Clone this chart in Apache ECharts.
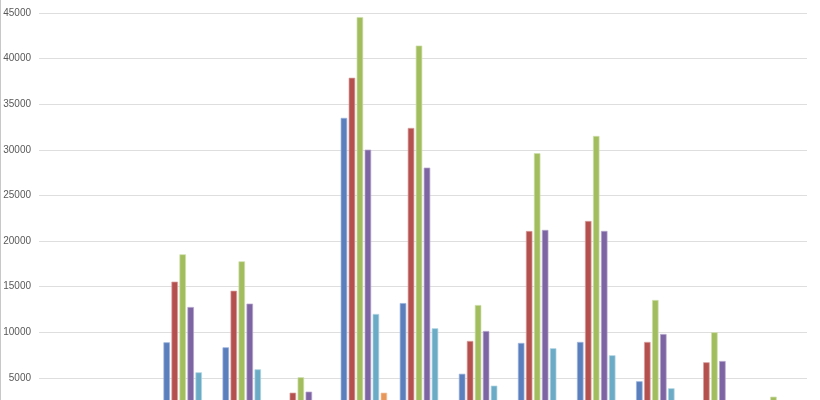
<!DOCTYPE html>
<html>
<head>
<meta charset="utf-8">
<script src="https://cdn.jsdelivr.net/npm/echarts@6/dist/echarts.min.js"></script>
<style>
html,body{margin:0;padding:0;background:#fff;}
#c{width:820px;height:400px;}
</style>
</head>
<body>
<div id="c"></div>
<script>
var categories = ['1','2','3','4','5','6','7','8','9','10','11','12','13'];
var seriesNames = ['Series 1','Series 2','Series 3','Series 4','Series 5','Series 6'];
var blueValues   = [0, 0, 8900, 8350, 1800, 33500, 13200, 5450, 8830, 8940, 4630, 1500, 500];
var redValues    = [0, 0, 15550, 14550, 3380, 37900, 32400, 9050, 21100, 22200, 8940, 6710, 1200];
var greenValues  = [0, 0, 18550, 17780, 5070, 44550, 41430, 12990, 29630, 31520, 13540, 10000, 2940];
var purpleValues = [0, 0, 12770, 13140, 3490, 30020, 28050, 10140, 21220, 21110, 9810, 6850, 1100];
var cyanValues   = [0, 0, 5610, 5940, 1200, 12010, 10440, 4150, 8250, 7480, 3860, 1500, 300];
var orangeValues = [0, 0, 0, 0, 0, 3380, 0, 0, 0, 0, 0, 0, 0];
var yTicks = [0, 5000, 10000, 15000, 20000, 25000, 30000, 35000, 40000, 45000];

var colors = ['#5b7fbd', '#b4504d', '#a2bd5d', '#7d64a2', '#6babc6', '#e8975a'];
var borders = ['#9db4dc', '#d9a2a0', '#cfdfae', '#b7a8cf', '#b3d7e4', '#f3cba9'];
var allValues = [blueValues, redValues, greenValues, purpleValues, cyanValues, orangeValues];

var series = allValues.map(function (vals, i) {
  return {
    name: seriesNames[i],
    type: 'bar',
    data: vals.map(function (v) { return v === 0 ? '-' : v; }),
    barWidth: 6.5,
    barGap: '23%',
    itemStyle: { color: colors[i], borderColor: borders[i], borderWidth: 0.7 },
    silent: true
  };
});

var chart = echarts.init(document.getElementById('c'), null, {renderer: 'canvas'});
chart.setOption({
  animation: false,
  backgroundColor: '#ffffff',
  grid: { left: 39, width: 768, top: 13, height: 410.5, containLabel: false, outerBoundsMode: 'none' },
  xAxis: {
    type: 'category',
    data: categories,
    axisLine: { show: false },
    axisTick: { show: false },
    axisLabel: { show: false },
    splitLine: { show: false }
  },
  yAxis: {
    type: 'value',
    min: yTicks[0],
    max: yTicks[yTicks.length - 1],
    interval: 5000,
    axisLine: { show: false },
    axisTick: { show: false },
    axisLabel: {
      margin: 8,
      color: '#595959',
      fontFamily: 'Liberation Sans, Arial, sans-serif',
      fontSize: 10,
      formatter: function (v) { return v === 0 ? '' : String(v); }
    },
    splitLine: { lineStyle: { color: '#dedede', width: 1 } }
  },
  graphic: [{
    type: 'line',
    shape: { x1: 0.5, y1: 0, x2: 0.5, y2: 400 },
    style: { stroke: '#c8c8c8', lineWidth: 1 },
    silent: true
  }],
  series: series
});
</script>
</body>
</html>
